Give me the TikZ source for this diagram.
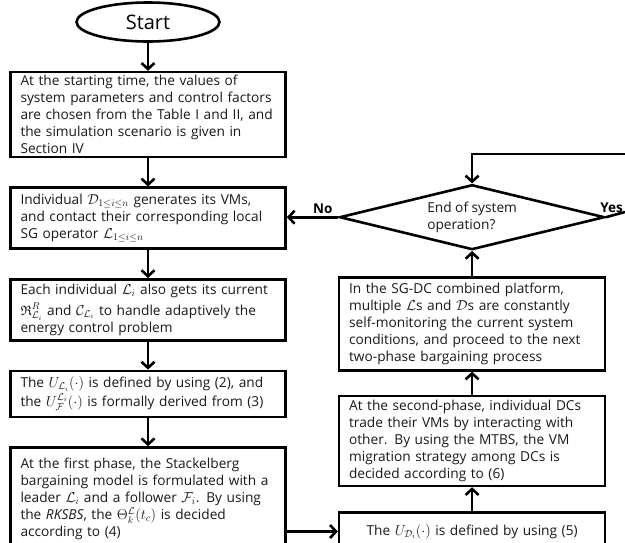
\documentclass[tikz,border=0pt]{standalone}
\usepackage{fontspec}
\setmainfont{Open Sans}
\usepackage{amssymb}
\usetikzlibrary{positioning}
\usetikzlibrary{shapes.geometric}
\usetikzlibrary{arrows.meta}

\begin{document}
\begin{tikzpicture}[x=1pt, y=-1pt]
  \tikzstyle{terminal}=[ellipse, draw, line width=2.6pt, minimum width=143pt, minimum height=39pt, inner sep=0pt, font=\fontsize{20}{24}\selectfont]
  \tikzstyle{process}=[rectangle, draw, line width=2.6pt, text width=255pt, inner xsep=10pt, inner ysep=0pt, align=left, text=black!90, font=\fontsize{13.7}{17}\selectfont]
  \tikzstyle{rprocess}=[process, text width=246pt]
  \tikzstyle{decision}=[diamond, draw, line width=2.6pt, minimum width=265pt, minimum height=65pt, aspect=4, inner sep=0pt, align=left, text=black!90, font=\fontsize{13.7}{17}\selectfont]
  \tikzstyle{connect}=[-{Straight Barb[length=6pt, width=13pt]}, line width=2.6pt]
  \tikzstyle{answer}=[above, inner sep=2pt, font=\bfseries\fontsize{13.5}{15}\selectfont]

  \useasboundingbox (0,0) rectangle (625,542);

  \node[terminal] (start) at (148,22) {Start};
  \node[process, minimum height=85pt] (init) [below=28pt of start]
    {At the starting time, the values of\\ system parameters and control factors\\ are chosen from the Table I and II, and\\ the simulation scenario is given in\\ Section IV};
  \node[process, minimum height=61pt] (gen) [below=28pt of init]
    {Individual $\mathcal{D}_{1\le i\le n}$ generates its VMs,\\ and contact their corresponding local\\ SG operator $\mathcal{L}_{1\le i\le n}$};
  \node[process, minimum height=61pt] (get) [below=28pt of gen]
    {Each individual $\mathcal{L}_i$ also gets its current\\[3.5pt] $\mathfrak{R}^{R}_{\mathcal{L}_i}$ and $\mathcal{C}_{\mathcal{L}_i}$ to handle adaptively the\\ energy control problem};
  \node[process, minimum height=46pt] (util) [below=28pt of get]
    {The $U_{\mathcal{L}_i}(\cdot)$ is defined by using (2), and\\[2pt] the $U^{\mathcal{L}_i}_{\mathcal{F}}(\cdot)$ is formally derived from (3)};
  \node[process, minimum height=103pt] (stack) [below=28pt of util]
    {At the first phase, the Stackelberg\\ bargaining model is formulated with a\\ leader $\mathcal{L}_i$ and a follower $\mathcal{F}_i$. By using\\ the \textit{RKSBS}, the $\Theta^{\mathcal{L}}_k(t_c)$ is decided\\ according to (4)};

  \node[rprocess, minimum height=38pt, align=center] (ud) [right=51pt of stack.south east, anchor=south west]
    {The $U_{\mathcal{D}_i}(\cdot)$ is defined by using (5)};
  \node[rprocess, minimum height=90pt] (mig) [above=24pt of ud]
    {At the second-phase, individual DCs\\ trade their VMs by interacting with\\ other. By using the MTBS, the VM\\ migration strategy among DCs is\\ decided according to (6)};
  \node[rprocess, minimum height=93pt] (mon) [above=23pt of mig]
    {In the SG-DC combined platform,\\ multiple $\mathcal{L}$s and $\mathcal{D}$s are constantly\\ self-monitoring the current system\\ conditions, and proceed to the next\\ two-phase bargaining process};
  \node[decision] (endq) [above=25pt of mon] {End of system\\ operation?};

  \coordinate (yesend) at (625,212);
  \coordinate (loopend) at (625,154);

  \path (start) edge [connect] (init)
        (init) edge [connect] (gen)
        (gen) edge [connect] (get)
        (get) edge [connect] (util)
        (util) edge [connect] (stack);

  \draw[connect] (stack.east |- ud.west) -- (ud.west);
  \path (ud) edge [connect] (mig)
        (mig) edge [connect] (mon)
        (mon) edge [connect] (endq);

  \draw[connect] (endq.west) -- node[answer, pos=0.3] {No} (endq.west -| gen.east);
  \draw[line width=2.6pt] (endq.east) -- node[answer, pos=0.3] {Yes} (yesend);
  \draw[connect] (loopend) -| (endq.north);

\end{tikzpicture}
\end{document}
